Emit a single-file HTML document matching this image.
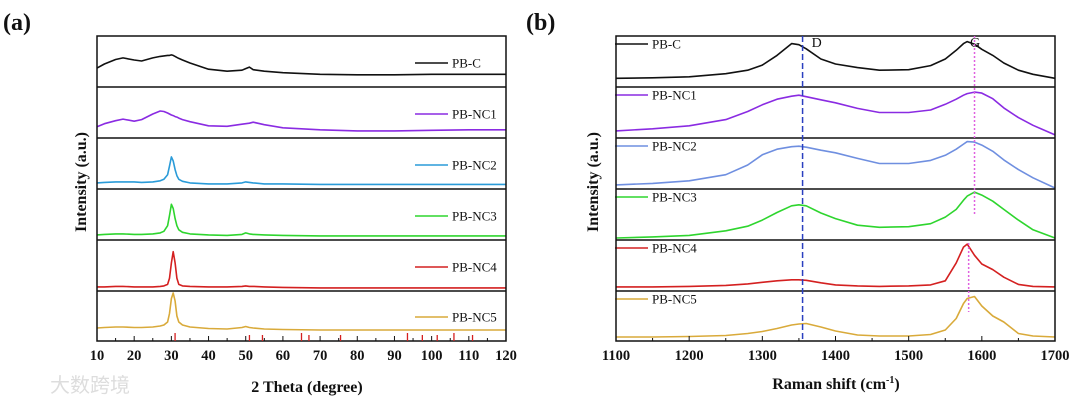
<!DOCTYPE html>
<html><head><meta charset="utf-8"><style>
body{margin:0;background:#fff;width:1080px;height:401px;overflow:hidden}
svg{display:block;font-family:"Liberation Serif","Noto Serif CJK SC",serif}
</style></head><body>
<svg id="c" width="1080" height="401" viewBox="0 0 1080 401"></svg>
<script>
const xrdX=[10,12,15,17,20,22,25,27,28,29,29.5,30,30.5,31,31.5,32,33,35,40,45,49,50,51,52,55,60,70,80,90,100,110,120];
const xrdC=[37,45,54,57,53,51,57,60,61,62,62,63,62,60,58,56,53,47,35,31,33,36,39,34,31,28,25,24,24,25,25,25];
const xrdNC1=[22,28,34,37,33,36,47,53,52,49,47,45,44,42,41,39,36,32,24,23,27,28,29,31,26,20,16,14,14,15,16,16];
const xrdNC2=[12,13,14,14,14,13,14,16,19,28,45,63,55,38,26,19,15,12,10,10,12,14,13,12,10,10,9,9,9,9,9,9];
const xrdNC3=[10,11,12,12,11,11,12,14,17,28,48,70,62,42,28,20,15,12,10,9,11,14,12,11,10,9,8,8,8,8,8,8];
const xrdNC4=[8,8,9,9,8,8,8,9,10,13,25,55,77,55,25,13,10,9,8,8,9,10,9,9,8,7,6,6,6,6,6,6];
const xrdNC5=[26,27,28,28,27,27,28,30,32,38,55,85,96,80,50,38,32,28,25,24,27,29,27,26,24,23,22,22,22,22,22,22];
const refPeaks=[31,51,54.5,65,67,75.5,93.5,97.5,101.5,106,111];
const xrdTicks=[10,20,30,40,50,60,70,80,90,100,110,120];
const ramX=[1100,1150,1200,1250,1280,1300,1320,1340,1350,1360,1380,1400,1430,1460,1500,1530,1550,1565,1575,1580,1590,1600,1615,1630,1650,1670,1700];
const ramC=[17,18,20,26,33,43,62,85,83,75,55,45,38,33,34,42,55,72,85,89,84,74,62,47,33,25,17];
const ramNC1=[14,18,24,36,52,65,76,82,84,81,75,69,58,50,50,55,66,76,84,87,90,88,77,59,40,25,6];
const ramNC2=[8,11,16,28,47,67,78,83,84,82,76,71,60,50,50,56,66,78,88,93,92,86,74,57,38,22,2];
const ramNC3=[4,6,9,18,27,39,54,67,69,67,53,42,29,25,26,32,45,60,78,86,94,88,76,60,39,20,4];
const ramNC4=[8,8,9,11,14,17,20,22,22,21,16,12,10,9,10,12,20,55,86,92,70,53,42,27,13,9,8];
const ramNC5=[8,8,9,11,15,19,25,32,34,35,28,20,12,10,10,13,22,45,75,85,89,70,50,38,15,10,8];
const ramTicks=[1100,1200,1300,1400,1500,1600,1700];
const names=["PB-C","PB-NC1","PB-NC2","PB-NC3","PB-NC4","PB-NC5"];
const colors=["#111","#8a2be2","#2a9bd8","#2ed52e","#d42020","#d9aa3a"];
const ramColors=["#111","#8a2be2","#6f8fe0","#2ed52e","#d42020","#d9aa3a"];
const NS="http://www.w3.org/2000/svg",svg=document.getElementById('c');
function el(t,a,p){const e=document.createElementNS(NS,t);for(const k in a)e.setAttribute(k,a[k]);(p||svg).appendChild(e);return e;}
const panY=[36,87,138,189,240,291,341];
function panel(id,x0,x1,xmin,xmax,xs,series,cols,ticks,minor,legX,legRight){
 const g=el('g',{});
 
 
 const sx=v=>x0+(v-xmin)/(xmax-xmin)*(x1-x0);
 series.forEach((s,i)=>{
  const top=panY[i],bot=panY[i+1],h=bot-top;
  const sy=v=>bot-v/100*h;
  const p=el('polyline',{points:xs.map((x,j)=>sx(x).toFixed(1)+','+sy(s[j]).toFixed(1)).join(' '),fill:'none',stroke:cols[i],'stroke-width':1.6,'stroke-linejoin':'round'},g);
  
  
  const ly=legRight?top+(i==5?26:27):top+8;
  const l=el('line',{x1:legX,x2:legX+33,y1:ly,y2:ly,stroke:cols[i],'stroke-width':1.6},g);
  
  
  const t=el('text',{x:legX+37,y:ly+4.5,'font-size':13,fill:'#111'},g);t.textContent=names[i];
  
  
  if(i>0){const d=el('line',{x1:x0,x2:x1,y1:top,y2:top,stroke:'#111','stroke-width':1.5},g);
   }
 });
 const f=el('rect',{x:x0,y:panY[0],width:x1-x0,height:panY[6]-panY[0],fill:'none',stroke:'#111','stroke-width':1.5},g);
 
 minor.forEach(v=>{const m=el('line',{x1:sx(v),x2:sx(v),y1:panY[6],y2:panY[6]-3,stroke:'#111','stroke-width':1},g);
  });
 ticks.forEach(v=>{const m=el('line',{x1:sx(v),x2:sx(v),y1:panY[6],y2:panY[6]-5,stroke:'#111','stroke-width':1},g);
  
  const t=el('text',{x:sx(v),y:360,'font-size':14.5,'font-weight':'bold','text-anchor':'middle',fill:'#111'},g);t.textContent=v;
  });
 return sx;
}
const minA=[];for(let v=15;v<120;v+=10)minA.push(v);
const sxa=panel('xrd',97,506,10,120,xrdX,[xrdC,xrdNC1,xrdNC2,xrdNC3,xrdNC4,xrdNC5],colors,xrdTicks,minA,415,true);
refPeaks.forEach((v,i)=>{const r=el('line',{x1:sxa(v),x2:sxa(v),y1:341,y2:341-(i%3==0?8:6),stroke:'#d42020','stroke-width':1.3});
 });
const minB=[1150,1250,1350,1450,1550,1650];
const sxb=panel('raman',616,1055,1100,1700,ramX,[ramC,ramNC1,ramNC2,ramNC3,ramNC4,ramNC5],ramColors,ramTicks,minB,615,false);
let dl=el('line',{x1:sxb(1355),x2:sxb(1355),y1:36,y2:341,stroke:'#2a3fc0','stroke-width':1.5,'stroke-dasharray':'6,3'});

let gl=el('line',{x1:sxb(1590),x2:sxb(1590),y1:36,y2:215,stroke:'#e060e0','stroke-width':1.5,'stroke-dasharray':'2,2'});

let gl2=el('line',{x1:sxb(1582),x2:sxb(1582),y1:243,y2:312,stroke:'#e060e0','stroke-width':1.5,'stroke-dasharray':'2,2'});

function txt(s,a,n){const t=el('text',a);t.textContent=s;return t;}
txt('D',{x:sxb(1355)+9,y:47,'font-size':14,fill:'#111'},'d-label');
txt('G',{x:sxb(1588)-3,y:47,'font-size':14,fill:'#111'},'g-label');
txt('(a)',{x:3,y:30,'font-size':24,'font-weight':'bold',fill:'#111'},'panel-a-label');
txt('(b)',{x:526,y:30,'font-size':24,'font-weight':'bold',fill:'#111'},'panel-b-label');
txt('2 Theta (degree)',{x:307,y:392,'font-size':16,'font-weight':'bold','text-anchor':'middle',fill:'#111'},'x-axis-title-a');
const rs=txt('Raman shift (cm',{x:836,y:389,'font-size':16,'font-weight':'bold','text-anchor':'middle',fill:'#111'},'x-axis-title-b');
const sup=el('tspan',{'font-size':10,dy:-6},rs);sup.textContent='-1';
const cl=el('tspan',{dy:6},rs);cl.textContent=')';
txt('Intensity (a.u.)',{x:0,y:0,'font-size':16,'font-weight':'bold','text-anchor':'middle',fill:'#111',transform:'translate(86,182) rotate(-90)'},'y-axis-title-a');
txt('Intensity (a.u.)',{x:0,y:0,'font-size':16,'font-weight':'bold','text-anchor':'middle',fill:'#111',transform:'translate(598,182) rotate(-90)'},'y-axis-title-b');
txt('大数跨境',{x:50,y:392,'font-size':20,fill:'#ddd','font-family':'"Noto Sans CJK SC",sans-serif'},'watermark');
</script>
</body></html>
